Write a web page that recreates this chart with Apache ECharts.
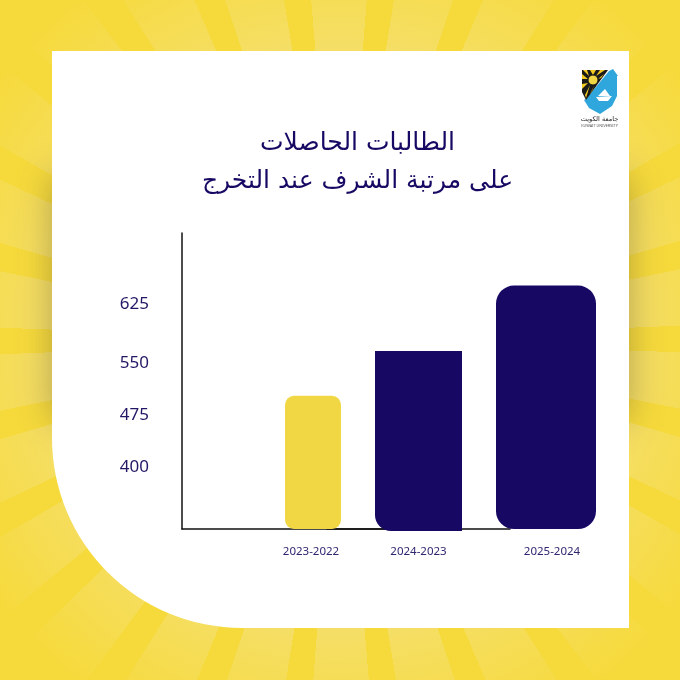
<!DOCTYPE html>
<html lang="ar">
<head>
<meta charset="utf-8">
<style>
html,body{margin:0;padding:0;width:680px;height:680px;overflow:hidden;background:#f6da3c}
#bg{position:absolute;left:0;top:0;width:680px;height:680px;
background:radial-gradient(circle at 340px 340px,rgba(246,218,60,0) 0,rgba(246,218,60,.15) 290px,rgba(246,218,60,1) 430px),
repeating-conic-gradient(from 4.5deg at 340px 340px,#f6da3c 0deg 4.5deg,#f5df6e 4.5deg 13.846deg)}
#shade{position:absolute;left:52px;top:175px;width:577px;height:245px;box-shadow:0 0 32px rgba(90,80,50,.42)}
#panel{position:absolute;left:52px;top:51px;width:577px;height:577px;background:#fff;border-bottom-left-radius:190px}
#chart{position:absolute;left:0;top:0;width:680px;height:680px}
</style>
</head>
<body>
<div id="bg"></div>
<div id="shade"></div>
<div id="panel"></div>
<div id="chart"></div>
<script src="https://cdn.jsdelivr.net/npm/echarts@6/dist/echarts.min.js"></script>
<script>
const titleLines = ['الطالبات الحاصلات', 'على مرتبة الشرف عند التخرج'];
const categories = ['2023-2022', '2024-2023', '2025-2024'];
const values = [500, 562, 653];
const yTicks = [400, 475, 550, 625];
const logoArabic = 'جامعة الكويت';
const logoLatin = 'KUWAIT UNIVERSITY';

const NAVY = '#170863', YELLOW = '#f2d744', BLACK = '#1a1a1a', SUN = '#f2c91f';
const Y_MIN = 315, Y_MAX = 726, TOP = 233, BOTTOM = 151;
const textFont = '"Noto Sans", sans-serif';

const layouts = [
  {left: 182, width: 262, bar: 56, color: YELLOW, radius: [9,9,9,9], line: true, labelPad: [0,4,0,0], offset: 0, min: Y_MIN, bottom: BOTTOM, margin: 17},
  {left: 327, width: 183, bar: 87, color: NAVY, radius: [0,0,0,16], line: true, labelPad: [0,0,0,0], offset: -2, min: Y_MIN - 2/0.72, bottom: BOTTOM - 2, margin: 17},
  {left: 496, width: 100, bar: 100, color: NAVY, radius: [18,18,18,18], line: false, labelPad: [0,0,0,12], offset: 0, min: Y_MIN, bottom: BOTTOM, margin: 17}
];

const tickPad = {625: [0,0,4,0], 550: [6,0,0,0], 475: [2,0,0,0], 400: [0,0,2,0]};
const tickRich = {};
yTicks.forEach(v => {
  tickRich['t' + v] = {color: '#221866', fontFamily: textFont, fontSize: 17, padding: tickPad[v]};
});

const sunWedges = [
  [[593,75],[590,70],[596,70]],
  [[596,76],[600,70],[605,70]],
  [[598,79],[604,74],[601,78]],
  [[589,76],[583,70],[587,70]],
  [[588,79],[582,74],[582,79]],
  [[588,83],[582,84],[582,89]],
  [[590,85],[585,95],[586,98]],
  [[594,86],[590,94],[592,91]]
];

const option = {
  animation: false,
  backgroundColor: 'transparent',
  title: {
    text: titleLines.join('\n'),
    left: 352.5, top: 119, textAlign: 'center',
    textStyle: {fontFamily: '"DejaVu Sans", sans-serif', fontSize: 25, fontWeight: 'normal', color: NAVY, lineHeight: 38}
  },
  grid: layouts.map(l => ({left: l.left, width: l.width, top: TOP, bottom: l.bottom})),
  xAxis: layouts.map((l, i) => ({
    type: 'category', gridIndex: i, data: [categories[i]], offset: l.offset,
    axisLine: {show: l.line, lineStyle: {color: '#111', width: 1.5}},
    axisTick: {show: false},
    axisLabel: {interval: 0, margin: l.margin, padding: l.labelPad, color: '#2f2670', fontFamily: textFont, fontSize: 11.5}
  })),
  yAxis: layouts.map((l, i) => ({
    type: 'value', gridIndex: i, min: l.min, max: Y_MAX,
    splitLine: {show: false}, axisTick: {show: false},
    axisLine: {show: i === 0, lineStyle: {color: '#111', width: 1.5}},
    axisLabel: i === 0
      ? {show: true, customValues: yTicks, margin: 33, formatter: v => `{t${v}|${v}}`, rich: tickRich}
      : {show: false}
  })),
  series: layouts.map((l, i) => ({
    type: 'bar', xAxisIndex: i, yAxisIndex: i, barWidth: l.bar,
    data: [values[i]], itemStyle: {color: l.color, borderRadius: l.radius}
  })),
  graphic: {elements: [
    {type: 'polygon', z: 10, shape: {points: [[613,69],[618,76],[617,76],[617,96],[612,106],[600,114],[589,108],[584,100],[586,99],[609,71]]}, style: {fill: '#2fa6dc'}},
    {type: 'polygon', z: 11, shape: {points: [[582,70],[608,70],[586,100],[582,92]]}, style: {fill: BLACK}},
    ...sunWedges.map(p => ({type: 'polygon', z: 12, shape: {points: p}, style: {fill: SUN}})),
    {type: 'circle', z: 13, shape: {cx: 593, cy: 80, r: 5}, style: {fill: '#f2d744', stroke: BLACK, lineWidth: 1}},
    {type: 'polygon', z: 13, shape: {points: [[596,97],[612,96],[608,101],[599,101]]}, style: {fill: '#fff'}},
    {type: 'polygon', z: 13, shape: {points: [[605,89],[610,96],[598,96]]}, style: {fill: '#fff'}},
    {type: 'text', z: 13, style: {x: 599.5, y: 119, text: logoArabic, align: 'center', verticalAlign: 'middle', fontFamily: '"DejaVu Sans", sans-serif', fontSize: 6.6, fill: '#222'}},
    {type: 'text', z: 13, style: {x: 599.5, y: 126, text: logoLatin, align: 'center', verticalAlign: 'middle', fontFamily: textFont, fontSize: 3.8, fill: '#555'}}
  ]}
};
echarts.init(document.getElementById('chart'), null, {renderer: 'canvas'}).setOption(option);
</script>
</body>
</html>
